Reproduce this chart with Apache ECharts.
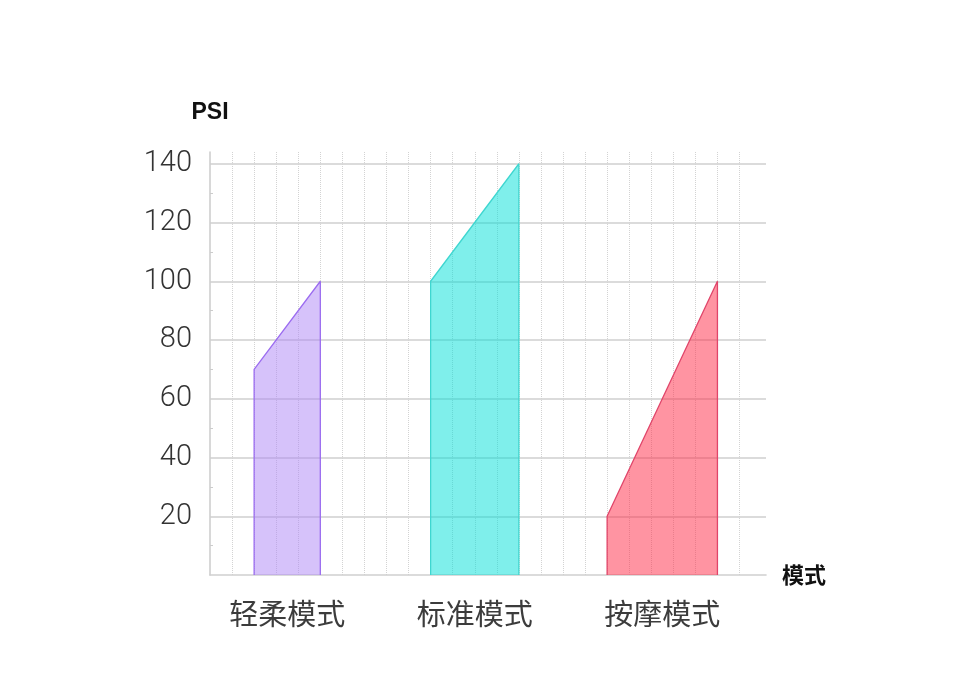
<!DOCTYPE html>
<html>
<head>
<meta charset="utf-8">
<script src="https://cdn.jsdelivr.net/npm/echarts@6/dist/echarts.min.js"></script>
<style>
html,body{margin:0;padding:0;background:#fff;}
#chart{width:958px;height:695px;}
</style>
</head>
<body>
<div id="chart"></div>
<script>
// ---- data ----
var categories = ['轻柔模式', '标准模式', '按摩模式'];
var xStart = [2, 10, 18];
var xEnd = [5, 14, 23];
var psiStart = [70, 100, 20];
var psiEnd = [100, 140, 100];
var yTicks = [20, 40, 60, 80, 100, 120, 140];
var yAxisName = 'PSI';
var xAxisName = '模式';

var fills = ['#ad85f5', '#00e0d8', '#ff2a45'];
var edges = ['#9b6cf0', '#3fd6d0', '#e0456a'];

var chart = echarts.init(document.getElementById('chart'), null, {renderer: 'canvas'});

var labelCenters = categories.map(function (c, i) { return (xStart[i] + xEnd[i]) / 2; });

var series = categories.map(function (name, i) {
  return {
    name: name,
    type: 'line',
    xAxisIndex: 1,
    yAxisIndex: 1,
    symbol: 'none',
    silent: true,
    lineStyle: {color: edges[i], width: 1.3},
    areaStyle: {color: fills[i], opacity: 0.5, origin: 0},
    data: [[xStart[i], 0], [xStart[i], psiStart[i]], [xEnd[i], psiEnd[i]], [xEnd[i], 0]]
  };
});

var option = {
  animation: false,
  backgroundColor: '#fff',
  grid: [
    {left: 210, right: 192, top: 152, bottom: 120},
    {left: 210, width: 529.5, top: 152, bottom: 120}
  ],
  xAxis: [
    {
      gridIndex: 0, type: 'value', min: 0, max: 1,
      name: xAxisName, nameLocation: 'end', nameGap: 16,
      nameTextStyle: {fontFamily: 'Noto Sans CJK SC', fontSize: 22, fontWeight: 'bold', color: '#111', verticalAlign: 'middle'},
      axisLine: {show: true, lineStyle: {color: '#cfcfcf', width: 1.6}},
      axisTick: {show: false}, axisLabel: {show: false}, splitLine: {show: false}
    },
    {
      gridIndex: 1, type: 'value', min: 0, max: 24, interval: 1,
      axisLine: {show: false}, axisTick: {show: false},
      axisLabel: {
        show: true, customValues: labelCenters, margin: 24,
        fontFamily: 'Noto Sans CJK SC', fontSize: 29, color: '#3c3c3c',
        formatter: function (v) {
          var idx = labelCenters.indexOf(v);
          return idx >= 0 ? categories[idx] : '';
        }
      },
      splitLine: {show: true, showMinLine: false, lineStyle: {color: '#d3d3d3', type: 'dotted', width: 1}}
    }
  ],
  yAxis: [
    {
      gridIndex: 0, type: 'value', min: 0, max: 144, interval: 20,
      name: yAxisName, nameLocation: 'end', nameGap: 28,
      nameTextStyle: {fontFamily: 'Liberation Sans', fontSize: 23, fontWeight: 'bold', color: '#111', align: 'center'},
      axisLine: {show: true, lineStyle: {color: '#cfcfcf', width: 1.6}},
      axisTick: {show: false, inside: true},
      minorTick: {show: true, splitNumber: 2, length: 3, lineStyle: {color: '#cccccc', width: 1}},
      axisLabel: {
        show: true, margin: 18, showMinLabel: false, showMaxLabel: false,
        fontFamily: 'Roboto', fontWeight: 300, fontSize: 29, color: '#333333',
        formatter: function (v) { return yTicks.indexOf(v) >= 0 ? String(v) : ''; }
      },
      splitLine: {show: true, showMinLine: false, showMaxLine: false, lineStyle: {color: '#cfcfcf', width: 1.6}}
    },
    {
      gridIndex: 1, type: 'value', min: 0, max: 144,
      show: false, splitLine: {show: false}
    }
  ],
  series: series
};
chart.setOption(option);
</script>
</body>
</html>
